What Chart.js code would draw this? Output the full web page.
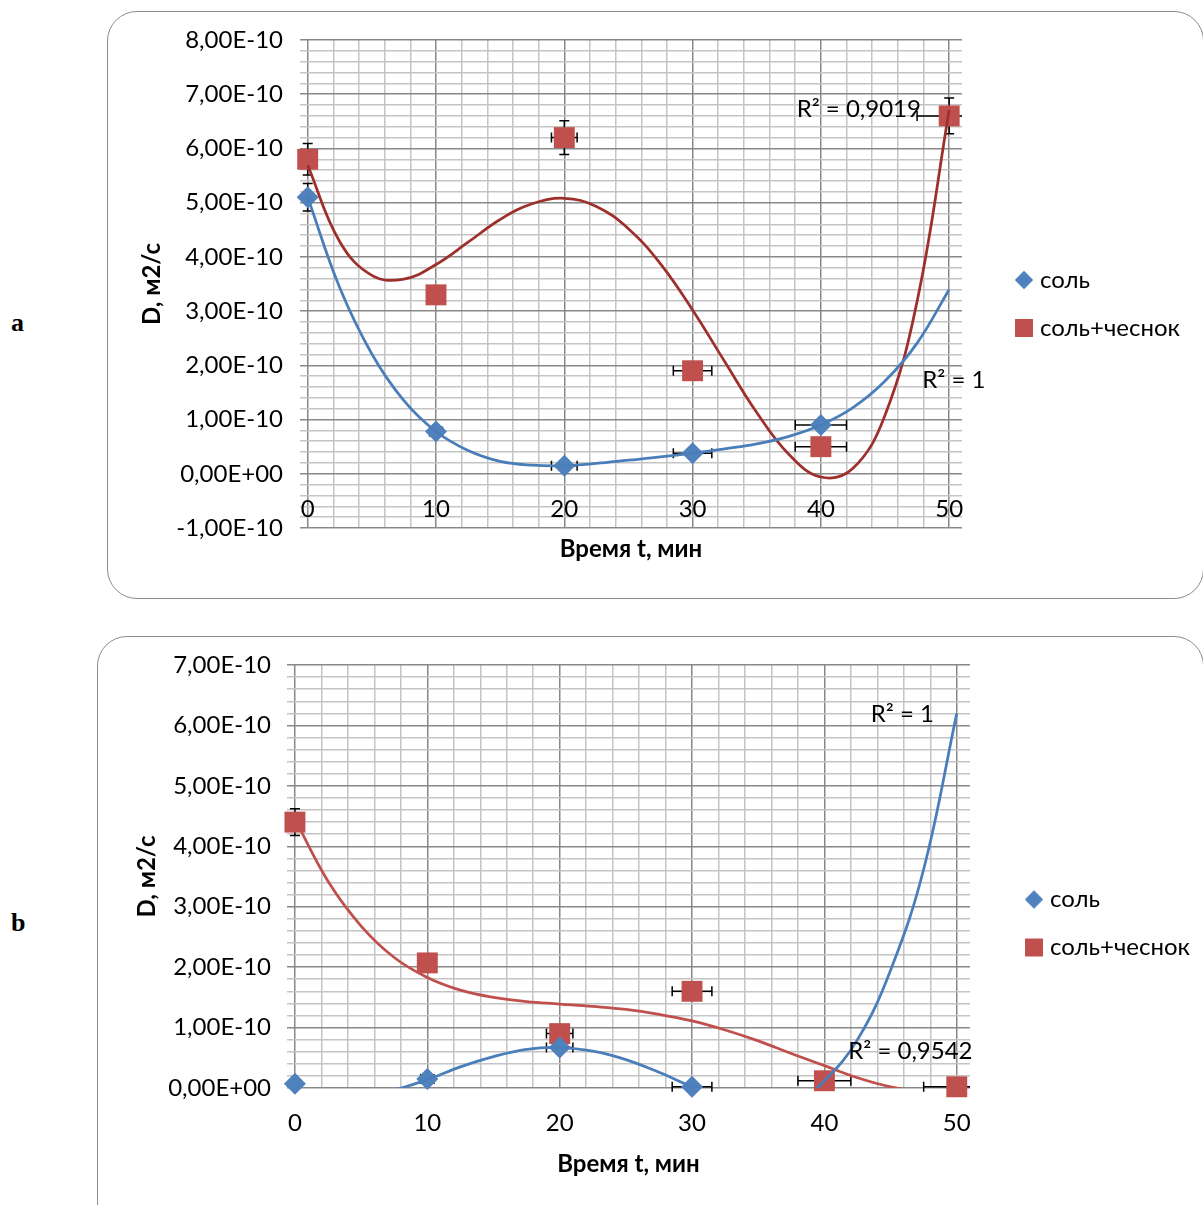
<!DOCTYPE html>
<html>
<head>
<meta charset="utf-8">
<script src="https://cdn.jsdelivr.net/npm/chart.js@4.4.1/dist/chart.umd.min.js"></script>
<style>
  body { margin: 0; width: 1203px; height: 1205px; overflow: hidden; background: #fff; position: relative; }
  .panel { position: absolute; border: 1.5px solid #8c8c8c; border-radius: 30px; box-sizing: border-box; }
  #panelA { left: 107px; top: 11px; width: 1097px; height: 588px; }
  #panelB { left: 97px; top: 636px; width: 1107px; height: 620px; }
  .tag { position: absolute; font: bold 26px "Liberation Serif", serif; }
  canvas { position: absolute; }
  #chartA { left: 110px; top: 8px; }
  #chartB { left: 100px; top: 633px; }
</style>
</head>
<body>
<div class="panel" id="panelA"></div>
<div class="panel" id="panelB"></div>
<div class="tag" style="left:11px; top:308px;">a</div>
<div class="tag" style="left:11px; top:908px;">b</div>
<canvas id="chartA" width="1093" height="586"></canvas>
<canvas id="chartB" width="1103" height="567"></canvas>
<script>
// D values are in units of 1e-10 m2/s
var times = [0, 10, 20, 30, 40, 50];
var timeErr = [0, 0.5, 1, 1.5, 2, 2.5];
var xLabels = ["0", "10", "20", "30", "40", "50"];

// panel a
var saltA = [5.1, 0.78, 0.15, 0.38, 0.9];
var saltErrA = [0.255, 0.039, 0.008, 0.019, 0.045];
var garlicA = [5.8, 3.3, 6.2, 1.9, 0.5, 6.6];
var garlicErrA = [0.29, 0.165, 0.31, 0.095, 0.025, 0.33];
var yLabelsA = ["-1,00E-10", "0,00E+00", "1,00E-10", "2,00E-10", "3,00E-10", "4,00E-10", "5,00E-10", "6,00E-10", "7,00E-10", "8,00E-10"];

// panel b
var saltB = [0.07, 0.15, 0.67, 0.02];
var saltErrB = [0.004, 0.008, 0.034, 0.001];
var garlicB = [4.4, 2.07, 0.9, 1.6, 0.12, 0.02];
var garlicErrB = [0.22, 0.1, 0.045, 0.08, 0.006, 0.001];
var yLabelsB = ["0,00E+00", "1,00E-10", "2,00E-10", "3,00E-10", "4,00E-10", "5,00E-10", "6,00E-10", "7,00E-10"];

// trend lines
var trendX = [0, 2.5, 5, 7.5, 10, 12.5, 15, 17.5, 20, 22.5, 25, 27.5, 30, 32.5, 35, 37.5, 40, 42.5, 45, 47.5, 50];
var trendSaltA = [5.10, 3.43, 2.21, 1.35, 0.78, 0.43, 0.23, 0.16, 0.15, 0.19, 0.25, 0.31, 0.38, 0.46, 0.55, 0.69, 0.90, 1.22, 1.71, 2.41, 3.40];
var trendGarlicA = [5.69, 4.28, 3.66, 3.59, 3.86, 4.27, 4.69, 4.98, 5.08, 4.93, 4.52, 3.87, 3.02, 2.07, 1.13, 0.36, -0.06, 0.10, 1.08, 3.18, 6.71];
var trendSaltB = [-0.6, -0.35, -0.12, -0.03, 0.14, 0.35, 0.52, 0.64, 0.67, 0.61, 0.47, 0.26, 0.02, -0.2, -0.33, -0.3, 0.12, 0.8, 1.95, 3.62, 6.2];
var trendGarlicB = [4.45, 3.42, 2.68, 2.16, 1.83, 1.62, 1.50, 1.43, 1.39, 1.35, 1.30, 1.22, 1.11, 0.96, 0.78, 0.57, 0.37, 0.17, 0.02, -0.06, -0.03];

var notesA = [
  { text: "R² = 0,9019", x: 47.8, y: 6.72, align: "right" },
  { text: "R² = 1", x: 47.9, y: 1.73, align: "left" }
];
var notesB = [
  { text: "R² = 1", x: 43.5, y: 6.18, align: "left" },
  { text: "R² = 0,9542", x: 41.8, y: 0.6, align: "left" }
];

var FONT = 'Lato, "Open Sans", sans-serif';
Chart.defaults.font.family = FONT;
Chart.defaults.color = "#000";

function pts(xs, ys) {
  return ys.map(function (v, i) { return { x: xs[i], y: v }; });
}

// small diamond for the legend
var diamondIcon = document.createElement("canvas");
diamondIcon.width = 20;
diamondIcon.height = 20;
var dctx = diamondIcon.getContext("2d");
dctx.fillStyle = "#4f81bd";
dctx.beginPath();
dctx.moveTo(10, 0.8); dctx.lineTo(19.2, 10); dctx.lineTo(10, 19.2); dctx.lineTo(0.8, 10);
dctx.closePath();
dctx.fill();

var errorBars = {
  id: "errorBars",
  beforeDatasetsDraw: function (chart) {
    var ctx = chart.ctx, area = chart.chartArea, sx = chart.scales.x, sy = chart.scales.y;
    ctx.save();
    ctx.beginPath();
    ctx.rect(area.left, 0, area.right - area.left, chart.height);
    ctx.clip();
    ctx.strokeStyle = "#000";
    ctx.lineWidth = 1.5;
    chart.data.datasets.forEach(function (ds) {
      if (!ds.errX) return;
      ds.data.forEach(function (p, i) {
        var px = sx.getPixelForValue(p.x), py = sy.getPixelForValue(p.y);
        ctx.beginPath();
        if (ds.errX[i]) {
          var x1 = sx.getPixelForValue(p.x - ds.errX[i]), x2 = sx.getPixelForValue(p.x + ds.errX[i]);
          ctx.moveTo(x1, py); ctx.lineTo(x2, py);
          ctx.moveTo(x1, py - 5); ctx.lineTo(x1, py + 5);
          ctx.moveTo(x2, py - 5); ctx.lineTo(x2, py + 5);
        }
        if (ds.errY[i]) {
          var y1 = sy.getPixelForValue(p.y - ds.errY[i]), y2 = sy.getPixelForValue(p.y + ds.errY[i]);
          ctx.moveTo(px, y1); ctx.lineTo(px, y2);
          ctx.moveTo(px - 5, y1); ctx.lineTo(px + 5, y1);
          ctx.moveTo(px - 5, y2); ctx.lineTo(px + 5, y2);
        }
        ctx.stroke();
      });
    });
    ctx.restore();
  }
};

function notesPlugin(notes) {
  return {
    id: "notes",
    afterDatasetsDraw: function (chart) {
      var ctx = chart.ctx;
      ctx.save();
      ctx.font = "24px " + FONT;
      ctx.fillStyle = "#000";
      ctx.textBaseline = "middle";
      notes.forEach(function (n) {
        ctx.textAlign = n.align;
        ctx.fillText(n.text, chart.scales.x.getPixelForValue(n.x), chart.scales.y.getPixelForValue(n.y));
      });
      ctx.restore();
    }
  };
}

function xTicksEvery2(s) {
  var t = [];
  for (var v = 0; v <= 50; v += 2) t.push({ value: v });
  s.ticks = t;
}
function xLabel(v) { return v % 10 === 0 ? xLabels[v / 10] : ""; }

function makeChart(id, c) {
  var yMin = c.yMin, yMax = c.yMax;
  var scales = {
    x: {
      type: "linear", min: -0.6, max: 51,
      afterBuildTicks: xTicksEvery2,
      afterFit: function (s) { s.height = c.xHeight; },
      ticks: {
        display: !c.inlineLabels,
        autoSkip: false, maxRotation: 0, minRotation: 0, padding: c.xPad,
        font: { size: 24 },
        callback: xLabel
      },
      grid: {
        drawTicks: false, lineWidth: 1.5,
        color: function (ctx) { return ctx.tick && ctx.tick.value % 10 === 0 ? "#888888" : "#c4c4c4"; }
      },
      border: { display: false },
      title: {
        display: true, text: "Время t, мин",
        font: { size: 24, weight: "bold" },
        padding: { top: 0, bottom: c.xTitlePad }
      }
    },
    y: {
      type: "linear", min: yMin, max: yMax,
      afterBuildTicks: function (s) {
        var t = [];
        for (var i = yMin * 5; i <= yMax * 5; i++) t.push({ value: i / 5 });
        s.ticks = t;
      },
      afterFit: function (s) { s.width = c.yWidth; },
      ticks: {
        autoSkip: false, padding: c.yPad, font: { size: 24 },
        callback: function (v) {
          var r = Math.round(v);
          return Math.abs(v - r) < 1e-6 ? c.yLabels[r - yMin] : "";
        }
      },
      grid: {
        drawTicks: false, lineWidth: 1.5,
        color: function (ctx) {
          if (!ctx.tick) return "#c4c4c4";
          var v = ctx.tick.value;
          return Math.abs(v - Math.round(v)) < 1e-6 ? "#888888" : "#c4c4c4";
        }
      },
      border: { display: false },
      title: {
        display: true, text: "D, м2/с",
        font: { size: 24, weight: "bold" },
        padding: { top: c.yTitlePad, bottom: 0 }
      }
    },
    pad: {
      type: "linear", position: "right", display: true,
      grid: { display: false }, ticks: { display: false }, border: { display: false },
      afterFit: function (s) { s.width = c.padWidth; }
    }
  };
  if (c.inlineLabels) {
    // x labels sit just under the zero line, inside the plot
    scales.x2 = {
      type: "linear", axis: "x", position: { y: 0 }, min: -0.6, max: 51,
      afterBuildTicks: xTicksEvery2,
      ticks: { autoSkip: false, maxRotation: 0, minRotation: 0, padding: 21, font: { size: 24 }, callback: xLabel },
      grid: { display: false, drawTicks: false },
      border: { display: false }
    };
  }

  return new Chart(document.getElementById(id), {
    type: "scatter",
    data: {
      datasets: [
        {
          label: "соль", data: pts(times, c.salt), errX: timeErr, errY: c.saltErr,
          pointStyle: "rectRot", pointRadius: 11, pointHoverRadius: 11,
          backgroundColor: "#4f81bd", borderWidth: 0, order: 1, clip: false
        },
        {
          label: "соль+чеснок", data: pts(times, c.garlic), errX: timeErr, errY: c.garlicErr,
          pointStyle: "rect", pointRadius: 14.8, pointHoverRadius: 14.8,
          backgroundColor: "#c0504d", borderWidth: 0, order: 1, clip: false
        },
        {
          label: "trend1", data: pts(trendX, c.trendSalt), showLine: true, tension: 0.4,
          pointRadius: 0, borderColor: "#4a7ebb", borderWidth: 2.75, order: 0
        },
        {
          label: "trend2", data: pts(trendX, c.trendGarlic), showLine: true, tension: 0.4,
          pointRadius: 0, borderColor: c.garlicTrendColor, borderWidth: 2.75, order: 0
        }
      ]
    },
    options: {
      responsive: false,
      animation: false,
      layout: { padding: c.padding },
      plugins: {
        tooltip: { enabled: false },
        legend: {
          position: "right",
          maxWidth: 188,
          labels: {
            usePointStyle: true,
            boxWidth: 8,
            boxHeight: 18,
            padding: 24,
            font: { size: 24 },
            filter: function (item) { return item.datasetIndex < 2; },
            generateLabels: function (chart) {
              var items = Chart.defaults.plugins.legend.labels.generateLabels(chart);
              items.forEach(function (it) { if (it.datasetIndex === 0) it.pointStyle = diamondIcon; });
              return items;
            }
          }
        }
      },
      scales: scales
    },
    plugins: [errorBars, notesPlugin(c.notes)]
  });
}

makeChart("chartA", {
  salt: saltA, saltErr: saltErrA, garlic: garlicA, garlicErr: garlicErrA,
  trendSalt: trendSaltA, trendGarlic: trendGarlicA, garlicTrendColor: "#9e302c",
  yMin: -1, yMax: 8, yLabels: yLabelsA, notes: notesA, inlineLabels: true,
  padding: { left: 0, top: 32, bottom: 26, right: 19 },
  yWidth: 190, yPad: 17, yTitlePad: 27.6,
  xHeight: 40, xPad: 0, xTitlePad: 4.6, padWidth: 34
});

makeChart("chartB", {
  salt: saltB, saltErr: saltErrB, garlic: garlicB, garlicErr: garlicErrB,
  trendSalt: trendSaltB, trendGarlic: trendGarlicB, garlicTrendColor: "#c0504d",
  yMin: 0, yMax: 7, yLabels: yLabelsB, notes: notesB, inlineLabels: false,
  padding: { left: 0, top: 32, bottom: 18, right: 9 },
  yWidth: 187, yPad: 16, yTitlePad: 32.6,
  xHeight: 94, xPad: 21, xTitlePad: 3.6, padWidth: 36
});
</script>
</body>
</html>
